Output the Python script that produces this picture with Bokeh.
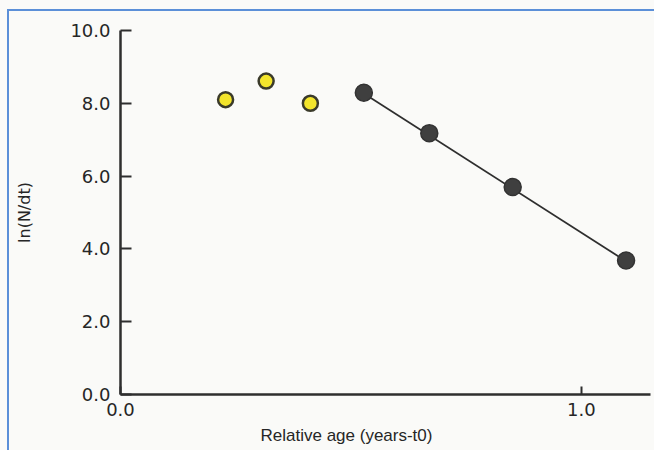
from bokeh.plotting import figure
from bokeh.models import Range1d, FixedTicker, Title
from bokeh.embed import file_html
from bokeh.resources import INLINE

# Data
early_x = [0.228, 0.316, 0.412]
early_y = [8.10, 8.61, 8.00]
fit_pts_x = [0.528, 0.670, 0.851, 1.097]
fit_pts_y = [8.29, 7.18, 5.70, 3.68]
line_x = [0.528, 1.097]
line_y = [8.27, 3.66]
y_ticks = [0, 2, 4, 6, 8, 10]
x_ticks = [0, 1]

BG = "#fafaf8"
INK = "#2e2e2e"
BLUE = "#5b8fd8"

p = figure(width=654, height=450, output_backend="svg", toolbar_location=None,
           x_range=Range1d(0, 1.15), y_range=Range1d(0, 10),
           min_border_left=120, min_border_right=4, min_border_top=30,
           min_border_bottom=56, background_fill_color=BG, border_fill_color=None,
           styles={"background": (f"linear-gradient({BLUE},{BLUE}) 7px 9px / 2px 441px no-repeat, "
                                  f"linear-gradient({BLUE},{BLUE}) 7px 9px / 647px 2px no-repeat, {BG}")})
p.outline_line_color = None
p.grid.visible = False

# axes
for ax in (p.xaxis, p.yaxis):
    ax.axis_line_color = INK
    ax.axis_line_width = 2.5
    ax.major_tick_line_color = INK
    ax.major_tick_line_width = 2
    ax.major_tick_out = 0
    ax.minor_tick_line_color = None
    ax.major_label_text_font = "DejaVu Sans"
    ax.major_label_text_font_size = "18px"
    ax.major_label_text_color = "#262626"
    ax.major_label_text_font_style = "normal"

p.yaxis.ticker = FixedTicker(ticks=y_ticks)
p.yaxis.major_tick_in = 11
p.yaxis.major_label_standoff = 10
p.yaxis.major_label_overrides = {t: f"{t:.1f}" for t in y_ticks}
p.yaxis.axis_label = "ln(N/dt)"
p.yaxis.axis_label_text_font = "DejaVu Sans"
p.yaxis.axis_label_text_font_size = "16px"
p.yaxis.axis_label_text_font_style = "normal"
p.yaxis.axis_label_text_color = "#262626"
p.yaxis.axis_label_standoff = 33

p.xaxis.ticker = FixedTicker(ticks=x_ticks)
p.xaxis.major_tick_in = 8
p.xaxis.major_label_standoff = 8
p.xaxis.major_label_overrides = {t: f"{t:.1f}" for t in x_ticks}

p.add_layout(Title(text="Relative age (years-t0)", align="left", offset=140,
                   text_font="Liberation Sans", text_font_size="17px",
                   text_font_style="normal", text_color="#262626", standoff=10),
             "below")

# regression line
p.line(line_x, line_y, line_color=INK, line_width=1.8)

# points
p.scatter(fit_pts_x, fit_pts_y, size=17, fill_color="#3f3f3f",
          line_color="#333333", line_width=1.5)
p.scatter(early_x, early_y, size=15, fill_color="#f3e52c",
          line_color="#3a3a2a", line_width=2.5)

open("out.html", "w").write(file_html(p, INLINE))
